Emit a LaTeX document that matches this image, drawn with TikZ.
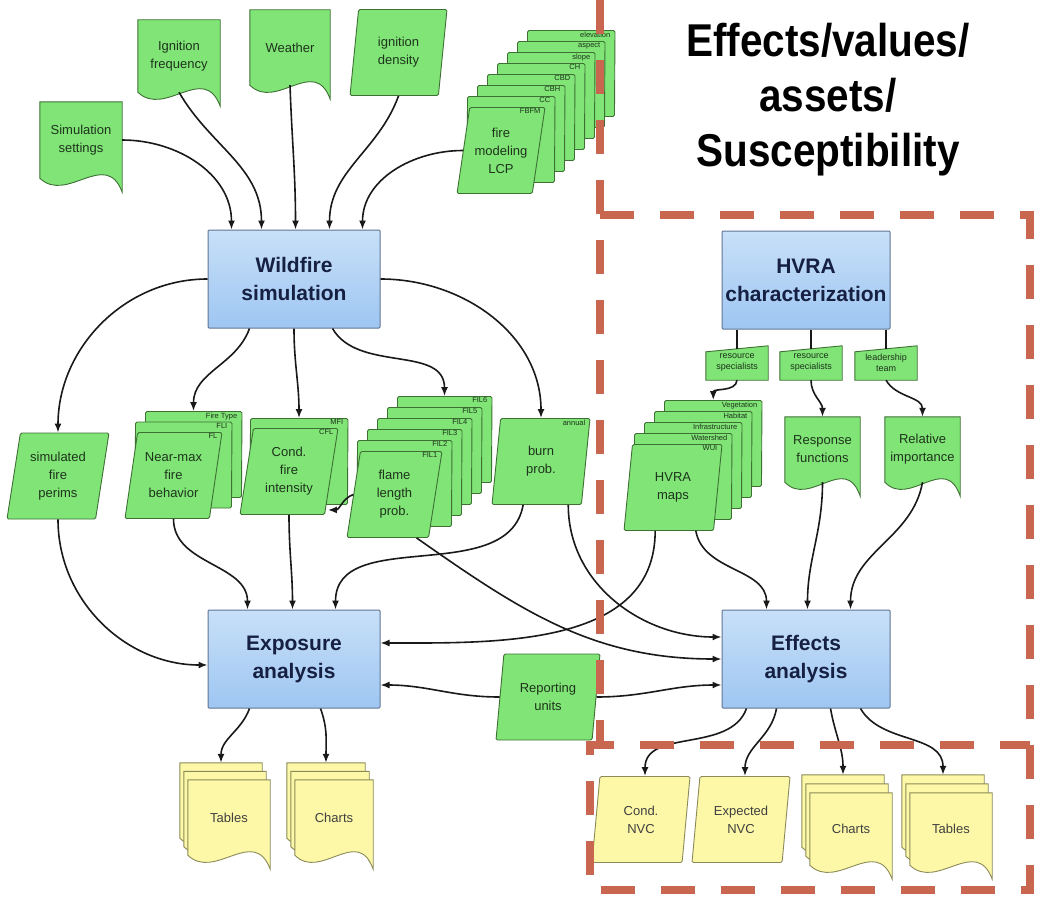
\documentclass[tikz,border=0pt]{standalone}
\usepackage{fontspec}
\setmainfont{Liberation Sans}
\newfontfamily\headfam[FakeStretch=0.88]{Liberation Sans}
\usetikzlibrary{arrows.meta,shapes.geometric,backgrounds,calc}

\definecolor{leaf}{RGB}{128,228,118}
\definecolor{leafline}{RGB}{62,112,52}
\definecolor{leaftext}{RGB}{30,52,28}
\definecolor{sky}{RGB}{200,224,248}
\definecolor{skydeep}{RGB}{158,198,242}
\definecolor{skyline}{RGB}{96,116,146}
\definecolor{navy}{RGB}{22,32,66}
\definecolor{butter}{RGB}{252,248,168}
\definecolor{butterline}{RGB}{140,138,88}
\definecolor{rust}{RGB}{200,102,80}

\newcommand\boxfont{\fontsize{21}{28}\selectfont\bfseries}
\newcommand\lblfont{\fontsize{13}{18}\selectfont}
\newcommand\smlfont{\fontsize{9}{11}\selectfont}
\newcommand\layfont{\fontsize{7.5}{8}\selectfont}

% outline of a page with a wavy lower edge, around a named node
\newcommand\docpath[1]{(#1.south west) -- (#1.north west) -- (#1.north east) -- ($(#1.south east)+(0,-14)$) .. controls ($(#1.south)!0.6!(#1.south east)+(0,30)$) and ($(#1.south)!0.34!(#1.south west)+(0,-26)$) .. (#1.south west) -- cycle}

\tikzset{
  arr/.style={-{Latex[length=9pt,width=7pt]}, line width=1.6pt, black!90},
  link/.style={line width=1.6pt, black!90},
  process/.style={draw=skyline, line width=1pt, top color=sky, bottom color=skydeep, minimum width=#1, minimum height=98, align=center, font=\boxfont, text=navy, rounded corners=1pt},
  para/.style={trapezium, trapezium left angle=75, trapezium right angle=105, trapezium stretches body, draw=leafline, fill=leaf, line width=0.9pt, minimum width=#1, minimum height=86, inner sep=1pt, align=center, font=\lblfont, text=leaftext, rounded corners=1.5pt},
  docbox/.style={minimum width=#1, inner sep=0pt, align=center, font=\lblfont, text=leaftext},
  laytag/.style={font=\layfont, text=leaftext, inner sep=0pt, anchor=north east},
  inputbox/.style={minimum width=62, minimum height=34, inner sep=0pt, align=center, font=\smlfont, text=leaftext},
  greendoc/.style={draw=leafline, fill=leaf, line width=0.9pt},
  yellowdoc/.style={draw=butterline, fill=butter, line width=0.9pt},
  output/.style={fill=butter, draw=butterline, text=black!75},
  zone/.style={draw=rust, line width=8pt, dash pattern=on 34pt off 26pt},
}

\begin{document}
\begin{tikzpicture}[x=1pt,y=1pt]
\useasboundingbox (0,0) rectangle (1056,-907);

% inputs
\node[docbox=82, minimum height=76] (simset) at (81,-140) {Simulation\\settings};
\node[docbox=82, minimum height=72] (ignfreq) at (179,-56) {Ignition\\frequency};
\node[docbox=80, minimum height=75] (weather) at (290,-47.5) {Weather};
\node[para=97] (igndens) at (398.5,-52.5) {ignition\\density};

\foreach \k/\lab in {7/elevation,6/aspect,5/slope,4/CH,3/CBD,2/CBH,1/CC}{
  \node[para=88] (lcp\k) at (501+10*\k,-150.5+11*\k) {};
  \node[laytag] at ($(lcp\k.top right corner)+(-5,-1.5)$) {\lab};
}
\node[para=88] (lcp) at (501,-150.5) {fire\\modeling\\LCP};
\node[laytag] at ($(lcp.top right corner)+(-5,-1.5)$) {FBFM};

% processes
\node[process=172] (wild) at (294,-279) {Wildfire\\simulation};
\node[process=168] (hvra) at (806,-280) {HVRA\\characterization};
\node[process=172] (expo) at (294,-659) {Exposure\\analysis};
\node[process=168] (eff) at (806,-659) {Effects\\analysis};

% simulation outputs
\node[para=102] (perims) at (58,-476) {simulated\\fire\\perims};

\foreach \k/\lab in {2/Fire Type,1/FLI}{
  \node[para=97] (nm\k) at (173.5+10*\k,-475.5+10.5*\k) {};
  \node[laytag] at ($(nm\k.top right corner)+(-5,-1.5)$) {\lab};
}
\node[para=97] (nm) at (173.5,-475.5) {Near-max\\fire\\behavior};
\node[laytag] at ($(nm.top right corner)+(-5,-1.5)$) {FL};

\node[para=98] (cfi1) at (299,-461.5) {};
\node[laytag] at ($(cfi1.top right corner)+(-5,-1.5)$) {MFI};
\node[para=98] (cfi) at (289,-471.5) {Cond.\\fire\\intensity};
\node[laytag] at ($(cfi.top right corner)+(-5,-1.5)$) {CFL};

\foreach \k/\lab in {5/FIL6,4/FIL5,3/FIL4,2/FIL3,1/FIL2}{
  \node[para=95] (flp\k) at (394.5+10*\k,-494.5+11*\k) {};
  \node[laytag] at ($(flp\k.top right corner)+(-5,-1.5)$) {\lab};
}
\node[para=95] (flp) at (394.5,-494.5) {flame\\length\\prob.};
\node[laytag] at ($(flp.top right corner)+(-5,-1.5)$) {FIL1};

\node[para=98] (burn) at (541,-461.5) {burn\\prob.};
\node[laytag] at ($(burn.top right corner)+(-5,-1.5)$) {annual};

% HVRA side
\node[inputbox] (rs1) at (737,-363) {resource\\specialists};
\node[inputbox] (rs2) at (811,-363) {resource\\specialists};
\node[inputbox] (lead) at (886,-363) {leadership\\team};

\foreach \k/\lab in {4/Vegetation,3/Habitat,2/Infrastructure,1/Watershed}{
  \node[para=98] (hmap\k) at (673+10*\k,-487.5+11*\k) {};
  \node[laytag] at ($(hmap\k.top right corner)+(-5,-1.5)$) {\lab};
}
\node[para=98] (hmap) at (673,-487.5) {HVRA\\maps};
\node[laytag] at ($(hmap.top right corner)+(-5,-1.5)$) {WUI};

\node[docbox=75, minimum height=65] (resp) at (822.5,-449.5) {Response\\functions};
\node[docbox=75, minimum height=65] (relimp) at (922.5,-449.5) {Relative\\importance};

\node[para=104] (report) at (548,-697) {Reporting\\units};

% reports
\foreach \k in {2,1}{
  \node[docbox=82, minimum height=75] (tabA\k) at (229-4*\k,-817.5+8.5*\k) {};
  \node[docbox=78, minimum height=75] (chaA\k) at (334-4*\k,-817.5+8.5*\k) {};
  \node[docbox=82, minimum height=72] (chaB\k) at (851-4*\k,-829+9*\k) {};
  \node[docbox=82, minimum height=72] (tabB\k) at (951-4*\k,-829+9*\k) {};
}
\node[docbox=82, minimum height=75, text=black!75] (tabA) at (229,-817.5) {Tables};
\node[docbox=78, minimum height=75, text=black!75] (chaA) at (334,-817.5) {Charts};
\node[docbox=82, minimum height=72, text=black!75] (chaB) at (851,-829) {Charts};
\node[docbox=82, minimum height=72, text=black!75] (tabB) at (951,-829) {Tables};
\node[para=98, output] (cnvc) at (641,-819.5) {Cond.\\NVC};
\node[para=98, output] (envc) at (741,-819.5) {Expected\\NVC};

\begin{scope}[on background layer]
  \foreach \n in {simset,ignfreq,weather,resp,relimp}
    \filldraw[greendoc] \docpath{\n};
  \foreach \n in {tabA2,tabA1,tabA,chaA2,chaA1,chaA,chaB2,chaB1,chaB,tabB2,tabB1,tabB}
    \filldraw[yellowdoc] \docpath{\n};
  \foreach \n in {rs1,rs2,lead}
    \filldraw[greendoc] ($(\n.north west)+(0,-6)$) -- (\n.north east) -- (\n.south east) -- (\n.south west) -- cycle;
\end{scope}

% into the simulation
\draw[arr] (simset.east) to[out=0,in=90] ([xshift=24pt]wild.north west);
\draw[arr] (ignfreq.south) to[out=-60,in=90] ([xshift=54pt]wild.north west);
\draw[arr] (weather.south) to[out=-88,in=90] ([xshift=88pt]wild.north west);
\draw[arr] (igndens.south) to[out=-110,in=90] ([xshift=122pt]wild.north west);
\draw[arr] (lcp.west) to[out=180,in=90] ([xshift=-18pt]wild.north east);

% out of the simulation
\draw[arr] (wild.west) to[out=180,in=90] (perims.north);
\draw[arr] ([xshift=42pt]wild.south west) to[out=-110,in=90] (nm2.north);
\draw[arr] (wild.south) to[out=-90,in=90] (cfi1.north);
\draw[arr] ([xshift=-48pt]wild.south east) to[out=-60,in=90] (flp5.north);
\draw[arr] (wild.east) to[out=0,in=90] (burn.north);
\draw[arr] (flp.west) to[out=200,in=0] ($(cfi.bottom right corner)+(3,5)$);

% exposure
\draw[arr] (perims.south) to[out=-90,in=180] ([yshift=-6pt]expo.west);
\draw[arr] (nm.south) to[out=-90,in=90] ([xshift=40pt]expo.north west);
\draw[arr] (cfi.south) to[out=-90,in=90] ([xshift=85pt]expo.north west);
\draw[arr] ($(burn.bottom left corner)!0.35!(burn.bottom right corner)$) to[out=-100,in=90] ([xshift=-45pt]expo.north east);
\draw[arr] ($(hmap.bottom left corner)!0.35!(hmap.bottom right corner)$) to[out=-90,in=0] ([yshift=16pt]expo.east);
\draw[arr] (report.west) to[out=180,in=0] ([yshift=-26pt]expo.east);

% HVRA characterization
\foreach \n in {rs1,rs2,lead}
  \draw[link] (hvra.south -| \n.north) -- ([yshift=-3pt]\n.north);
\draw[arr] (rs1.south) to[out=-95,in=90] ($(hmap4.top left corner)!0.5!(hmap4.top right corner)$);
\draw[arr] (rs2.south) to[out=-90,in=90] (resp.north);
\draw[arr] (lead.south) to[out=-60,in=90] (relimp.north);

% effects
\draw[arr] ($(flp.bottom left corner)!0.85!(flp.bottom right corner)$) to[out=-35,in=180] (eff.west);
\draw[arr] ($(burn.bottom left corner)!0.85!(burn.bottom right corner)$) to[out=-90,in=180] ([yshift=22pt]eff.west);
\draw[arr] ($(hmap.bottom left corner)!0.8!(hmap.bottom right corner)$) to[out=-80,in=90] ([xshift=45pt]eff.north west);
\draw[arr] (resp.south) to[out=-90,in=90] ([xshift=86pt]eff.north west);
\draw[arr] (relimp.south) to[out=-100,in=90] ([xshift=-40pt]eff.north east);
\draw[arr] (report.east) to[out=0,in=180] ([yshift=-26pt]eff.west);

% reports
\draw[arr] ([xshift=42pt]expo.south west) to[out=-110,in=90] (tabA2.north);
\draw[arr] ([xshift=-60pt]expo.south east) to[out=-70,in=90] (chaA2.north);
\draw[arr] ([xshift=25pt]eff.south west) to[out=-110,in=90] ($(cnvc.top left corner)!0.5!(cnvc.top right corner)$);
\draw[arr] ([xshift=55pt]eff.south west) to[out=-100,in=90] ($(envc.top left corner)!0.5!(envc.top right corner)$);
\draw[arr] ([xshift=-60pt]eff.south east) to[out=-80,in=90] (chaB2.north);
\draw[arr] ([xshift=-30pt]eff.south east) to[out=-60,in=90] (tabB2.north);

% dashed frames
\draw[zone] (600,0) -- (600,-745);
\draw[zone] (600,-215) -- (1030,-215) -- (1030,-890) -- (590,-890) -- (590,-745) -- (1030,-745);

\node[font=\headfam\bfseries\fontsize{46}{55}\selectfont, align=center] (title) at (828,-100) {Effects/values/\\assets/\\Susceptibility};

\end{tikzpicture}
\end{document}
